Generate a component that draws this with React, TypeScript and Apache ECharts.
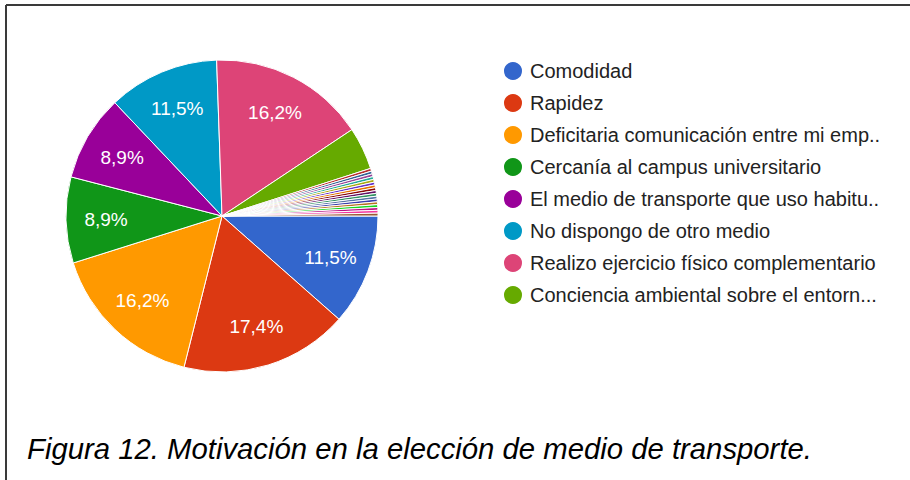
import React, { useEffect, useRef } from "react";
import * as echarts from "echarts";

const categories = [
  "Comodidad",
  "Rapidez",
  "Deficitaria comunicación entre mi emp..",
  "Cercanía al campus universitario",
  "El medio de transporte que uso habitu..",
  "No dispongo de otro medio",
  "Realizo ejercicio físico complementario",
  "Conciencia ambiental sobre el entorn...",
];
const values = [11.5, 17.4, 16.2, 8.9, 8.9, 11.5, 16.2, 4.4];
// many single-answer responses shown as tiny slices
const otherValues = [0.29, 0.29, 0.29, 0.29, 0.29, 0.29, 0.29, 0.29, 0.29, 0.29, 0.29, 0.29, 0.29, 0.29, 0.29, 0.29, 0.29];
const otherNames = otherValues.map((_, i) => "Otra respuesta " + (i + 1));
const palette = [
  "#3366cc", "#dc3912", "#ff9900", "#109618", "#990099", "#0099c6", "#dd4477", "#66aa00",
  "#b82e2e", "#316395", "#994499", "#22aa99", "#aaaa11", "#6633cc", "#e67300", "#8b0707",
  "#651067", "#329262", "#5574a6", "#3b3eac", "#b77322", "#16d620", "#b91383", "#f4359e", "#9c5935",
];
const title = "Figura 12. Motivación en la elección de medio de transporte.";

export default function App() {
  const ref = useRef<HTMLDivElement>(null);
  useEffect(() => {
    if (!ref.current) return;
    const chart = echarts.init(ref.current, null, { renderer: "svg" });
    const names = [...categories, ...otherNames];
    const vals = [...values, ...otherValues];
    const fmt = (v: number) => v.toFixed(1).replace(".", ",") + "%";
    const center = [222, 216];
    chart.setOption({
      animation: false,
      color: palette,
      legend: {
        data: categories,
        orient: "vertical",
        left: 497,
        top: 55,
        icon: "circle",
        itemWidth: 20,
        itemHeight: 20,
        itemGap: 10,
        selectedMode: false,
        textStyle: {
          fontFamily: "Liberation Sans, Arial, sans-serif",
          fontSize: 20,
          lineHeight: 20,
          color: "#222",
          padding: [0, 0, 0, 2],
        },
      },
      series: [
        {
          type: "pie",
          center,
          radius: [0, 156],
          startAngle: 0,
          clockwise: true,
          label: { show: false },
          labelLine: { show: false },
          itemStyle: { borderColor: "#ffffff", borderWidth: 1 },
          emphasis: { disabled: true },
          data: names.map((n, i) => ({ name: n, value: vals[i] })),
        },
        {
          type: "pie",
          center,
          radius: [0, 226],
          startAngle: 0,
          clockwise: true,
          silent: true,
          z: 5,
          itemStyle: { color: "transparent", borderWidth: 0 },
          labelLine: { show: false },
          emphasis: { disabled: true },
          label: {
            position: "inside",
            color: "#ffffff",
            fontFamily: "Liberation Sans, Arial, sans-serif",
            fontSize: 19,
            formatter: (p: any) => fmt(p.value),
          },
          data: names.map((n, i) => ({
            name: n,
            value: vals[i],
            label: { show: vals[i] >= 5 },
          })),
        },
      ],
      graphic: [
        {
          type: "line",
          shape: { x1: 6, y1: 5, x2: 910, y2: 5 },
          style: { stroke: "#3a3a3a", lineWidth: 2 },
        },
        {
          type: "line",
          shape: { x1: 6, y1: 5, x2: 6, y2: 480 },
          style: { stroke: "#3a3a3a", lineWidth: 2 },
        },
        {
          type: "text",
          left: 27,
          top: 434,
          style: {
            text: title,
            fill: "#000",
            fontFamily: "Liberation Sans, Arial, sans-serif",
            fontStyle: "italic",
            fontSize: 29.3,
          },
        },
      ],
    });
    return () => chart.dispose();
  }, []);
  return (
    <div
      ref={ref}
      style={{ position: "fixed", left: 0, top: 0, width: 910, height: 480, background: "#fff" }}
    />
  );
}
